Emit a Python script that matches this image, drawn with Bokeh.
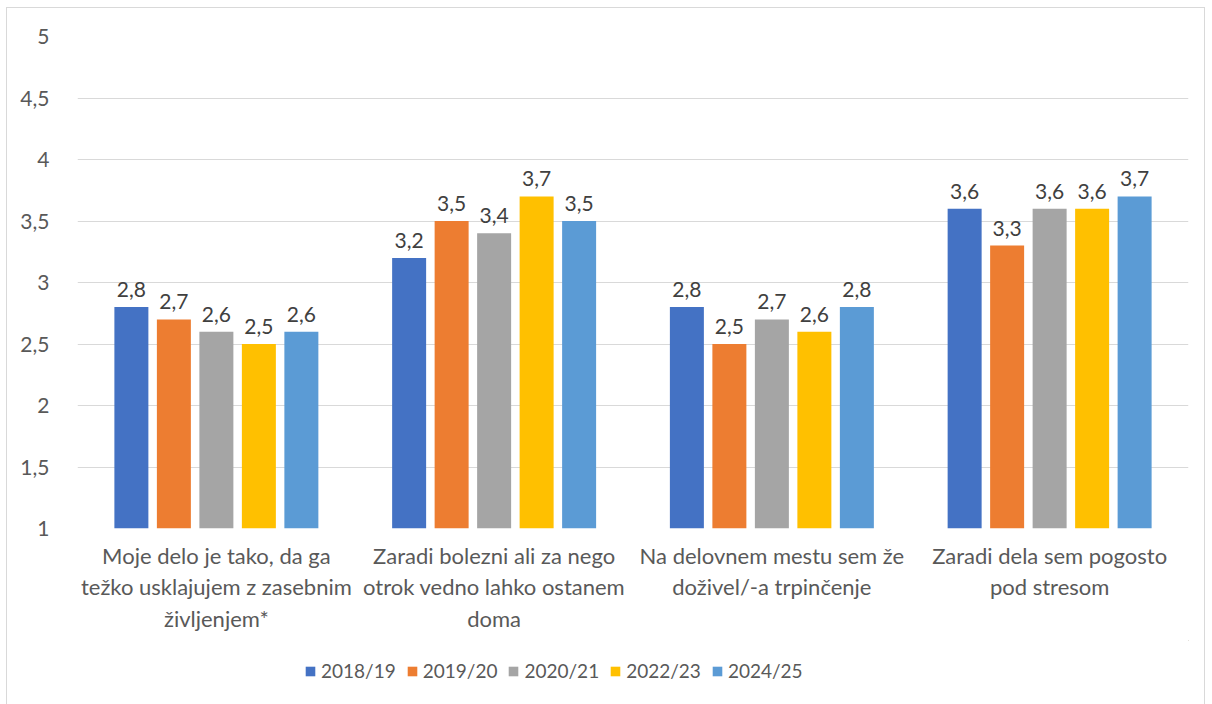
from bokeh.plotting import figure
from bokeh.models import Range1d, FixedTicker, Legend, LegendItem, ColumnDataSource, LabelSet
from bokeh.layouts import column
from bokeh.core.properties import value
from bokeh.embed import file_html
from bokeh.resources import INLINE

categories = [
    "Moje delo je tako, da ga\ntežko usklajujem z zasebnim\nživljenjem*",
    "Zaradi bolezni ali za nego\notrok vedno lahko ostanem\ndoma",
    "Na delovnem mestu sem že\ndoživel/-a trpinčenje",
    "Zaradi dela sem pogosto\npod stresom",
]
series = ["2018/19", "2019/20", "2020/21", "2022/23", "2024/25"]
values = {
    "2018/19": [2.8, 3.2, 2.8, 3.6],
    "2019/20": [2.7, 3.5, 2.5, 3.3],
    "2020/21": [2.6, 3.4, 2.7, 3.6],
    "2022/23": [2.5, 3.7, 2.6, 3.6],
    "2024/25": [2.6, 3.5, 2.8, 3.7],
}
colors = ["#4472C4", "#ED7D31", "#A5A5A5", "#FFC000", "#5B9BD5"]
y_ticks = [1, 1.5, 2, 2.5, 3, 3.5, 4, 4.5, 5]

FONT = "Lato"
TXT = "#595959"

p = figure(frame_width=1111, frame_height=492, output_backend="svg", toolbar_location=None,
           x_range=Range1d(0, len(categories)), y_range=Range1d(1, 5))
p.min_border_left = 70
p.min_border_right = 16
p.min_border_top = 28
p.min_border_bottom = 112
p.outline_line_color = None
p.border_fill_color = "white"

step = 0.153
bw = 0.1224
for j, s in enumerate(series):
    xs = [i + 0.5 + (j - 2) * step for i in range(len(categories))]
    src = ColumnDataSource(dict(x=xs, top=values[s],
                                lbl=[f"{v:.1f}".replace(".", ",") for v in values[s]]))
    p.vbar(x="x", top="top", bottom=1, width=bw, source=src,
           fill_color=colors[j], line_color=None)
    p.add_layout(LabelSet(x="x", y="top", text="lbl", source=src, text_align="center",
                          text_baseline="bottom", y_offset=10, text_font=value(FONT),
                          text_font_size=value("21px"), text_color=value("#404040")))

p.xaxis.ticker = FixedTicker(ticks=[i + 0.5 for i in range(len(categories))])
p.xaxis.major_label_overrides = {i + 0.5: c for i, c in enumerate(categories)}
p.xaxis.axis_line_color = None
p.xaxis.major_tick_line_color = None
p.xaxis.minor_tick_line_color = None
p.xaxis.major_label_text_font = FONT
p.xaxis.major_label_text_font_size = "22px"
p.xaxis.major_label_text_color = TXT
p.xaxis.major_label_standoff = 7
p.xaxis.major_label_text_line_height = 1.17

p.yaxis.ticker = FixedTicker(ticks=y_ticks)
p.yaxis.major_label_overrides = {t: (f"{t:g}".replace(".", ",")) for t in y_ticks}
p.yaxis.axis_line_color = None
p.yaxis.major_tick_line_color = None
p.yaxis.minor_tick_line_color = None
p.yaxis.major_label_text_font = FONT
p.yaxis.major_label_text_font_size = "21px"
p.yaxis.major_label_text_color = TXT
p.yaxis.major_label_standoff = 22

p.xgrid.grid_line_color = None
p.ygrid.grid_line_color = "#D9D9D9"
p.ygrid.grid_line_width = 1

# legend in its own strip
lf = figure(width=1197, height=48, output_backend="svg", toolbar_location=None,
            x_range=Range1d(0, 1), y_range=Range1d(0, 1))
lf.min_border = 0
lf.axis.visible = False
lf.grid.visible = False
lf.outline_line_color = None
items = []
for j, s in enumerate(series):
    r = lf.vbar(x=[5], top=[5], bottom=[4], width=0.1, fill_color=colors[j], line_color=None)
    items.append(LegendItem(label=s, renderers=[r]))
legend = Legend(items=items, orientation="horizontal", location=(227, 6),
                label_text_font=FONT, label_text_font_size="19px", label_text_color=TXT,
                glyph_width=12, glyph_height=12, spacing=10, label_standoff=5,
                border_line_color=None, background_fill_alpha=0, margin=0, padding=4)
lf.add_layout(legend, "center")

layout = column(p, lf, spacing=0)
layout.styles = {"margin-left": "6px", "margin-top": "7px", "padding-bottom": "16px",
                 "border": "1px solid #D9D9D9", "background-color": "white"}

open("out.html", "w").write(file_html(layout, INLINE))
